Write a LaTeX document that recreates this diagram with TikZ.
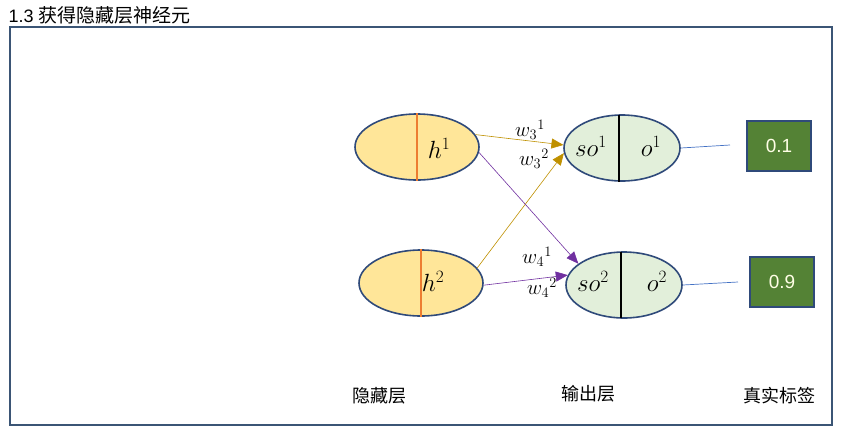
\documentclass[tikz,border=0pt]{standalone}
\usepackage{fontspec}
\setmainfont{Liberation Sans}
\newfontfamily\cjk{Noto Sans CJK SC}
\usetikzlibrary{arrows.meta,shapes.geometric}
\usepackage{amsmath}
\definecolor{framecol}{HTML}{3B5575}
\definecolor{hidfill}{HTML}{FFE699}
\definecolor{outfill}{HTML}{E2EFDA}
\definecolor{edgecol}{HTML}{2F4A7A}
\definecolor{orangeline}{HTML}{ED7D31}
\definecolor{goldcol}{HTML}{BF9000}
\definecolor{purplecol}{HTML}{7030A0}
\definecolor{bluecol}{HTML}{4472C4}
\definecolor{labfill}{HTML}{548235}
\tikzset{
  hid/.style={ellipse,draw=edgecol,line width=1.6pt,fill=hidfill,minimum width=124pt,minimum height=66pt,inner sep=0pt},
  outn/.style={ellipse,draw=edgecol,line width=1.6pt,fill=outfill,minimum width=116pt,minimum height=66pt,inner sep=0pt},
  truebox/.style={draw=edgecol,line width=1.4pt,fill=labfill,minimum width=64pt,minimum height=50pt,text=white!90!yellow,font=\fontsize{19}{20}\selectfont},
  caplabel/.style={font=\cjk\fontsize{18}{20}\selectfont},
  mlab/.style={font=\fontsize{23}{24}\selectfont},
  wlab/.style={font=\fontsize{22}{24}\selectfont},
  gold/.style={goldcol,line width=0.6pt,-{Triangle[length=12pt,width=10pt]}},
  purp/.style={purplecol,line width=0.6pt,-{Triangle[length=12pt,width=10pt]}}
}
\begin{document}
\begin{tikzpicture}[x=1pt,y=-1pt]
  \useasboundingbox (0,0) rectangle (845,432);
  \node[anchor=west,font=\fontsize{18}{20}\selectfont] (title) at (5,15) {1.3 {\cjk\fontsize{19}{20}\selectfont 获得隐藏层神经元}};
  \draw[framecol,line width=2pt] (10,27) rectangle (832,425);
  % hidden layer
  \node[hid] (h1) at (417,147) {};
  \node[hid] (h2) at (421,283) {};
  \draw[orangeline,line width=2.4pt] (h1.north) -- (h1.south);
  \draw[orangeline,line width=2.4pt] (h2.north) -- (h2.south);
  \node[mlab] (h1l) at (439,148) {$h^1$};
  \node[mlab] (h2l) at (433,281) {$h^2$};
  % output layer
  \node[outn] (o1) at (622,148) {};
  \node[outn] (o2) at (624,285) {};
  \draw[black,line width=2pt] (619,115) -- (619,182);
  \draw[black,line width=2pt] (621,252) -- (621,318);
  \node[mlab] (s1) at (591,146) {$so^1$};
  \node[mlab] (p1) at (651,146) {$o^1$};
  \node[mlab] (s2) at (593,281) {$so^2$};
  \node[mlab] (p2) at (657,281) {$o^2$};
  % weights
  \draw[gold] (h1.12) -- (o1.177);
  \draw[gold] (h2.15) -- (o1.185);
  \draw[purp] (h1.-5) -- (o2.155);
  \draw[purp] (h2.-2) -- (o2.170);
  \node[wlab] (w31) at (530,130) {${w_3}^1$};
  \node[wlab] (w32) at (534,159) {${w_3}^2$};
  \node[wlab] (w41) at (537,257) {${w_4}^1$};
  \node[wlab] (w42) at (542,288) {${w_4}^2$};
  % true labels
  \node[truebox] (t1) at (779,146) {0.1};
  \node[truebox] (t2) at (782,282) {0.9};
  \coordinate (e1) at (730,145);
  \coordinate (e2) at (738,282);
  \draw[bluecol,line width=0.7pt] (o1.east) -- (e1);
  \draw[bluecol,line width=0.7pt] (o2.east) -- (e2);
  % captions
  \node[caplabel] (c1) at (379,396) {隐藏层};
  \node[caplabel] (c2) at (588,394) {输出层};
  \node[caplabel] (c3) at (779,396) {真实标签};
\end{tikzpicture}
\end{document}
